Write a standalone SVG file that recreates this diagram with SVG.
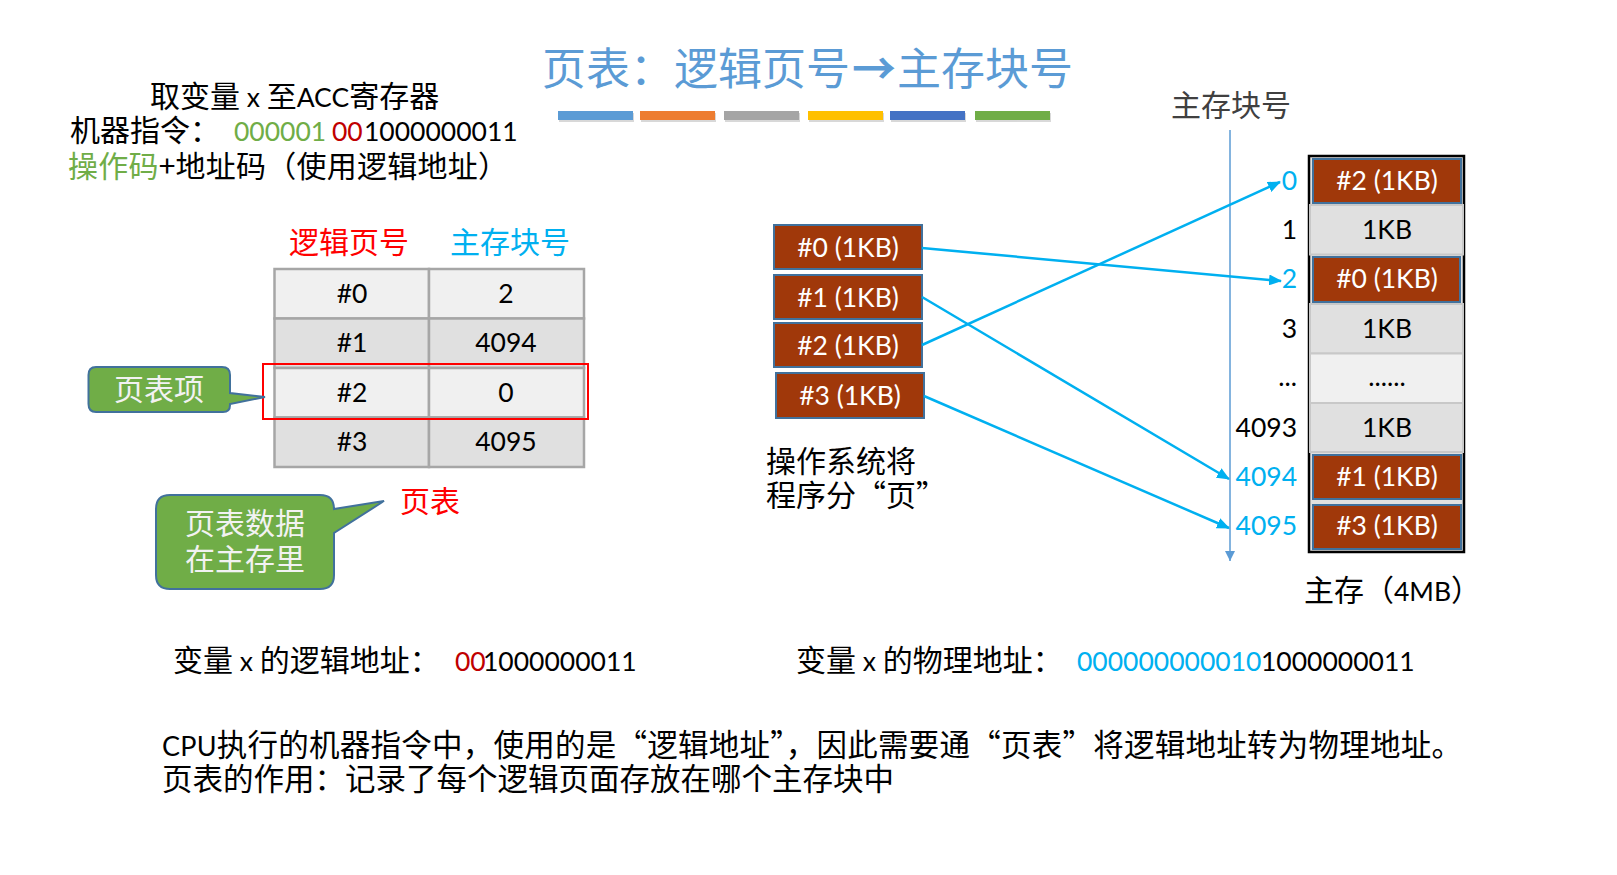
<svg xmlns="http://www.w3.org/2000/svg" width="1617" height="875" viewBox="0 0 1617 875">
<style>
text{font-family:"Noto Sans CJK SC","Noto Sans",sans-serif;font-size:30px;fill:#000}
.L{font-family:Lato,"Noto Sans CJK SC",sans-serif;font-size:26.5px}
.m{text-anchor:middle}
.e{text-anchor:end}
.title{font-size:44px;fill:#5B9BD5}
.cyan{fill:#00B0F0}
.red{fill:#FF0000}
.dred{fill:#C00000}
.green{fill:#70AD47}
.white{fill:#FFFFFF}
.cw{fill:#F2F2F2}
.page{fill:#A0380A;stroke:#41719C;stroke-width:2}
.cell{stroke:#A6A6A6;stroke-width:2.5}
.mcell{stroke:#C8C8C8;stroke-width:2}
.conn{stroke:#00B0F0;stroke-width:2.5;fill:none;marker-end:url(#ah)}
.callout{fill:#70AD47;stroke:#41719C;stroke-width:2}
</style>
<defs>
<marker id="ah" markerUnits="userSpaceOnUse" markerWidth="13" markerHeight="11" refX="12" refY="5.5" orient="auto"><path d="M0,0 L13,5.5 L0,11 Z" fill="#00B0F0"/></marker>
<marker id="ah2" markerUnits="userSpaceOnUse" markerWidth="11" markerHeight="10" refX="10" refY="5" orient="auto"><path d="M0,0 L10,5 L0,10 Z" fill="#5B9BD5"/></marker>
</defs>
<rect width="1617" height="875" fill="#FFFFFF"/>

<g id="title">
<text class="title" x="542" y="85">页表：逻辑页号</text>
<text class="title m" x="874" y="85" font-weight="bold">→</text>
<text class="title" x="897" y="85">主存块号</text>
</g>
<g id="bars">
<g fill="#000" opacity="0.15">
<rect x="559" y="113" width="75" height="9"/><rect x="641" y="113" width="75" height="9"/><rect x="725" y="113" width="75" height="9"/><rect x="809" y="113" width="75" height="9"/><rect x="891" y="113" width="75" height="9"/><rect x="976" y="113" width="75" height="9"/>
</g>
<rect x="558" y="111" width="75" height="9" fill="#5B9BD5"/>
<rect x="640" y="111" width="75" height="9" fill="#ED7D31"/>
<rect x="724" y="111" width="75" height="9" fill="#A5A5A5"/>
<rect x="808" y="111" width="75" height="9" fill="#FFC000"/>
<rect x="890" y="111" width="75" height="9" fill="#4472C4"/>
<rect x="975" y="111" width="75" height="9" fill="#70AD47"/>
</g>

<g id="instruction">
<text x="150" y="107">取变量 <tspan class="L">x</tspan> 至<tspan class="L">ACC</tspan>寄存器</text>
<text x="70" y="140.5">机器指令：<tspan class="L green" x="234">000001</tspan><tspan class="L dred" x="332">00</tspan><tspan class="L" x="364">1000000011</tspan></text>
<text x="68" y="177" textLength="440"><tspan class="green">操作码</tspan>+地址码（使用逻辑地址）</text>
</g>

<g id="page-table">
<text class="red" x="289" y="253">逻辑页号</text>
<text class="cyan" x="450" y="253">主存块号</text>
<rect class="cell" x="274.5" y="269" width="154.5" height="49.5" fill="#F0F0F0"/>
<rect class="cell" x="429" y="269" width="155" height="49.5" fill="#F0F0F0"/>
<rect class="cell" x="274.5" y="318.5" width="154.5" height="49.5" fill="#E0E0E0"/>
<rect class="cell" x="429" y="318.5" width="155" height="49.5" fill="#E0E0E0"/>
<rect class="cell" x="274.5" y="368" width="154.5" height="49.5" fill="#F0F0F0"/>
<rect class="cell" x="429" y="368" width="155" height="49.5" fill="#F0F0F0"/>
<rect class="cell" x="274.5" y="417.5" width="154.5" height="49.5" fill="#E0E0E0"/>
<rect class="cell" x="429" y="417.5" width="155" height="49.5" fill="#E0E0E0"/>
<text class="L m" x="352" y="302.5">#0</text><text class="L m" x="506" y="302.5">2</text>
<text class="L m" x="352" y="352">#1</text><text class="L m" x="506" y="352">4094</text>
<text class="L m" x="352" y="401.5">#2</text><text class="L m" x="506" y="401.5">0</text>
<text class="L m" x="352" y="451">#3</text><text class="L m" x="506" y="451">4095</text>
<text class="red" x="400" y="512">页表</text>
</g>
<g id="highlight">
<rect x="263" y="364" width="325" height="55" fill="none" stroke="#FF0000" stroke-width="2"/>
</g>

<g id="callout-entry">
<path class="callout" d="M96 367 H222 Q230 367 230 375 V393 L265 397 L230 404 V405 Q230 412 223 412 H96 Q88.5 412 88.5 404 V375 Q88.5 367 96 367 Z"/>
<text class="cw m" x="159" y="400">页表项</text>
</g>
<g id="callout-memory">
<path class="callout" d="M170 495 H320 Q334 495 334 509 L384 501 L334 533 V575 Q334 589 320 589 H170 Q156 589 156 575 V509 Q156 495 170 495 Z"/>
<text class="cw m" x="245" y="534">页表数据</text>
<text class="cw m" x="245" y="570">在主存里</text>
</g>

<g id="pages">
<g id="page0"><rect class="page" x="774" y="225" width="148" height="44"/><text class="L white m" x="848" y="257">#0 (1KB)</text></g>
<g id="page1"><rect class="page" x="774" y="275" width="148" height="44"/><text class="L white m" x="848" y="307">#1 (1KB)</text></g>
<g id="page2"><rect class="page" x="774" y="323" width="148" height="44"/><text class="L white m" x="848" y="355">#2 (1KB)</text></g>
<g id="page3"><rect class="page" x="776" y="373" width="148" height="45"/><text class="L white m" x="850" y="405">#3 (1KB)</text></g>
<text x="766" y="472">操作系统将</text>
<text x="766" y="506">程序分<tspan>“页”</tspan></text>
</g>

<g id="axis">
<text x="1171" y="116" style="fill:#404040">主存块号</text>
<line x1="1230" y1="130" x2="1230" y2="561" stroke="#5B9BD5" stroke-width="1.5" marker-end="url(#ah2)"/>
</g>

<g id="memory">
<rect x="1309" y="156" width="155" height="396" fill="#E0E0E0" stroke="#000" stroke-width="2.5"/>
<rect class="mcell" x="1310" y="205" width="153" height="49.5" fill="#E0E0E0"/>
<rect class="mcell" x="1310" y="304" width="153" height="49.5" fill="#E0E0E0"/>
<rect class="mcell" x="1310" y="353.5" width="153" height="49.5" fill="#F0F0F0"/>
<rect class="mcell" x="1310" y="403" width="153" height="49" fill="#E0E0E0"/>
<rect class="page" x="1313" y="159" width="148" height="44"/>
<rect class="page" x="1313" y="257" width="147" height="45"/>
<rect class="page" x="1313" y="455" width="148" height="44"/>
<rect class="page" x="1313" y="505" width="148" height="44"/>
<text class="L white m" x="1387" y="190">#2 (1KB)</text>
<text class="L m" x="1387" y="239">1KB</text>
<text class="L white m" x="1387" y="288">#0 (1KB)</text>
<text class="L m" x="1387" y="338">1KB</text>
<text class="L m" x="1387" y="386">......</text>
<text class="L m" x="1387" y="437">1KB</text>
<text class="L white m" x="1387" y="486">#1 (1KB)</text>
<text class="L white m" x="1387" y="535">#3 (1KB)</text>
<text class="L cyan e" x="1297" y="190">0</text>
<text class="L e" x="1297" y="239">1</text>
<text class="L cyan e" x="1297" y="288">2</text>
<text class="L e" x="1297" y="338">3</text>
<text class="L e" x="1297" y="386">...</text>
<text class="L e" x="1297" y="437">4093</text>
<text class="L cyan e" x="1297" y="486">4094</text>
<text class="L cyan e" x="1297" y="535">4095</text>
<text x="1304" y="601">主存（<tspan class="L">4MB</tspan>）</text>
</g>

<g id="connectors">
<line class="conn" x1="922" y1="248" x2="1281" y2="281"/>
<line class="conn" x1="922" y1="297" x2="1229" y2="479"/>
<line class="conn" x1="922" y1="345" x2="1280" y2="182"/>
<line class="conn" x1="924" y1="396" x2="1229" y2="528"/>
</g>

<g id="addresses">
<text x="173" y="671">变量 <tspan class="L">x</tspan> 的逻辑地址：<tspan class="L dred" x="455">00</tspan><tspan class="L" x="483">1000000011</tspan></text>
<text x="796" y="671">变量 <tspan class="L">x</tspan> 的物理地址：<tspan class="L cyan" x="1077">000000000010</tspan><tspan class="L" x="1261">1000000011</tspan></text>
</g>

<g id="notes">
<text x="162" y="756" textLength="1300" style="font-size:30.5px"><tspan class="L" style="font-size:27px">CPU</tspan>执行的机器指令中，使用的是“逻辑地址”，因此需要通“页表”将逻辑地址转为物理地址。</text>
<text x="162" y="790" style="font-size:30.5px">页表的作用：记录了每个逻辑页面存放在哪个主存块中</text>
</g>
</svg>
